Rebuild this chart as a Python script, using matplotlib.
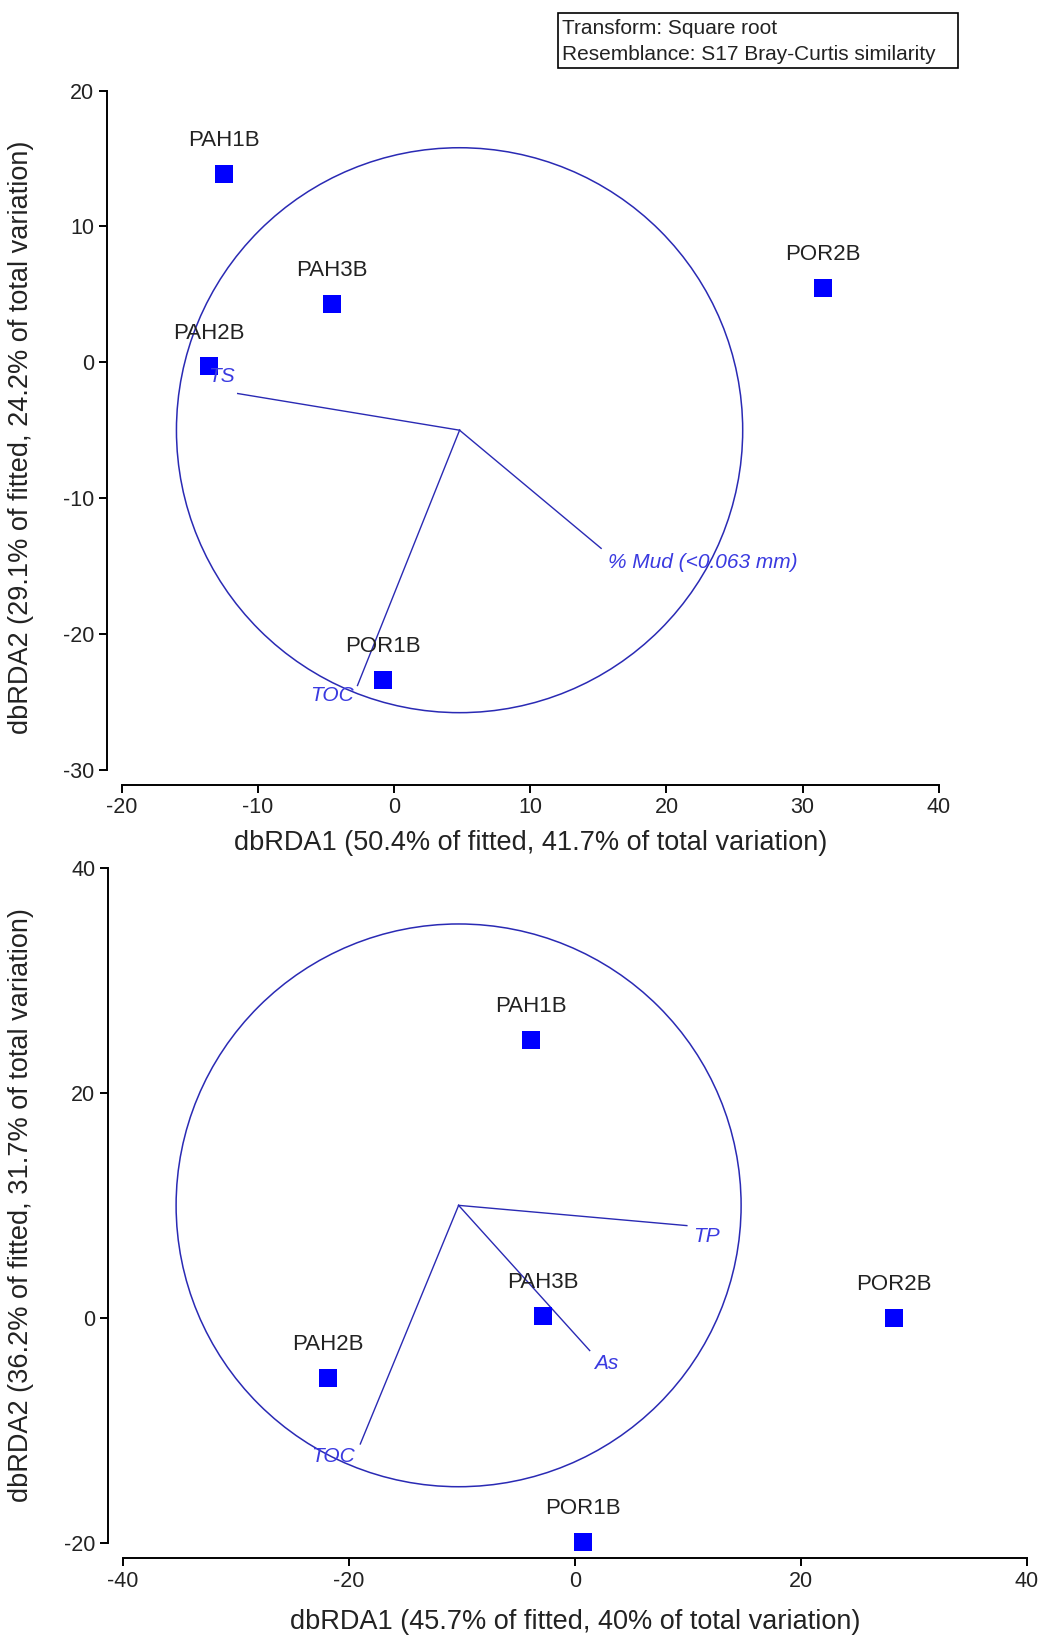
import numpy as np
import matplotlib
matplotlib.use('Agg')
import matplotlib.pyplot as plt
from matplotlib.patches import Circle, Rectangle

plt.rcParams['font.family'] = ['Liberation Sans', 'DejaVu Sans']
plt.rcParams['axes.unicode_minus'] = False

sites = ['PAH1B', 'PAH2B', 'PAH3B', 'POR1B', 'POR2B']

# upper dbRDA
top_x = [-12.5, -13.6, -4.6, -0.8, 31.5]
top_y = [13.9, -0.3, 4.3, -23.4, 5.5]
top_vec_names = ['TS', '% Mud (<0.063 mm)', 'TOC']
top_vec_x = [-11.5, 15.2, -2.7]
top_vec_y = [-2.3, -13.7, -23.8]
top_origin = (4.8, -5.0)
top_radius = 20.8
top_xticks = [-20, -10, 0, 10, 20, 30, 40]
top_yticks = [-30, -20, -10, 0, 10, 20]
top_xlabel = 'dbRDA1 (50.4% of fitted, 41.7% of total variation)'
top_ylabel = 'dbRDA2 (29.1% of fitted, 24.2% of total variation)'

# lower dbRDA
bot_x = [-3.9, -21.9, -2.8, 0.7, 28.2]
bot_y = [24.7, -5.3, 0.2, -19.9, 0.0]
bot_vec_names = ['TP', 'As', 'TOC']
bot_vec_x = [9.9, 1.3, -19.0]
bot_vec_y = [8.2, -2.9, -11.2]
bot_origin = (-10.3, 10.0)
bot_radius = 25.0
bot_xticks = [-40, -20, 0, 20, 40]
bot_yticks = [-20, 0, 20, 40]
bot_xlabel = 'dbRDA1 (45.7% of fitted, 40% of total variation)'
bot_ylabel = 'dbRDA2 (36.2% of fitted, 31.7% of total variation)'

legend_lines = ['Transform: Square root', 'Resemblance: S17 Bray-Curtis similarity']

LINE_C = '#2a2ab4'
TEXT_C = '#3a3ae0'
W, H = 1045, 1635


def draw_panel(ax, xs, ys, vnames, vx, vy, origin, radius, xticks, yticks,
               xlabel, ylabel, label_offsets, ylab_x, ylab_y):
    #circle + vectors
    ax.add_patch(Circle(origin, radius, fill=False, ec=LINE_C, lw=1.1, clip_on=False))
    for name, ex, ey, (dx, dy, ha) in zip(vnames, vx, vy, label_offsets):
        ax.plot([origin[0], ex], [origin[1], ey], color=LINE_C, lw=1.0, clip_on=False)
        ax.annotate(name, (ex, ey), xytext=(dx, dy), textcoords='offset points',
                    ha=ha, va='center', color=TEXT_C, style='italic', fontsize=15)

    #samples
    ax.plot(xs, ys, 's', ms=13.5, color='#0000ff', mew=0, clip_on=False)
    for name, x, y in zip(sites, xs, ys):
        ax.annotate(name, (x, y), xytext=(0, 24), textcoords='offset points',
                    ha='center', va='center', fontsize=16, color='#222222')

    ax.set_xlim(xticks[0], xticks[-1])
    ax.set_ylim(yticks[0], yticks[-1])
    ax.set_xticks(xticks)
    ax.set_yticks(yticks)
    for s in ['top', 'right']:
        ax.spines[s].set_visible(False)
    ax.spines['left'].set_position(('outward', 11))
    ax.spines['bottom'].set_position(('outward', 11))
    for s in ['left', 'bottom']:
        ax.spines[s].set_linewidth(1.4)
    ax.tick_params(length=6, width=1.4, labelsize=15.5, pad=3, labelcolor='#222222')

    ax.set_xlabel(xlabel, fontsize=19.5, color='#222222')
    ax.set_ylabel(ylabel, fontsize=19.5, color='#222222')
    ax.xaxis.label.set_va('center')
    ax.yaxis.set_label_coords(ylab_x, ylab_y)
    ax.yaxis.label.set_va('center')


fig = plt.figure(figsize=(W / 100, H / 100), dpi=100)

ax1 = fig.add_axes([122 / W, 1 - 769.7 / H, 816.7 / W, 679 / H])
draw_panel(ax1, top_x, top_y, top_vec_names, top_vec_x, top_vec_y, top_origin, top_radius,
           top_xticks, top_yticks, top_xlabel, top_ylabel,
           [(-12, 12, 'center'), (5, -10, 'left'), (-18, -7, 'center')], -0.124, 0.49)
ax1.xaxis.set_label_coords(0.5, -0.108)

ax2 = fig.add_axes([123 / W, 1 - 1543 / H, 904 / W, 675.3 / H])
draw_panel(ax2, bot_x, bot_y, bot_vec_names, bot_vec_x, bot_vec_y, bot_origin, bot_radius,
           bot_xticks, bot_yticks, bot_xlabel, bot_ylabel,
           [(14, -8, 'center'), (12, -9, 'center'), (-20, -9, 'center')], -0.1128, 0.5)
ax2.xaxis.set_label_coords(0.5, -0.117)

# transform / resemblance box
fig.patches.append(Rectangle((558 / W, 1 - 68 / H), 400 / W, 55 / H, transform=fig.transFigure,
                             fill=False, ec='black', lw=1.2))
fig.text(562 / W, 1 - 28.5 / H, legend_lines[0], ha='left', va='center', fontsize=15, color='#222222')
fig.text(562 / W, 1 - 55 / H, legend_lines[1], ha='left', va='center', fontsize=15, color='#222222')

fig.savefig('out.png', dpi=100)
